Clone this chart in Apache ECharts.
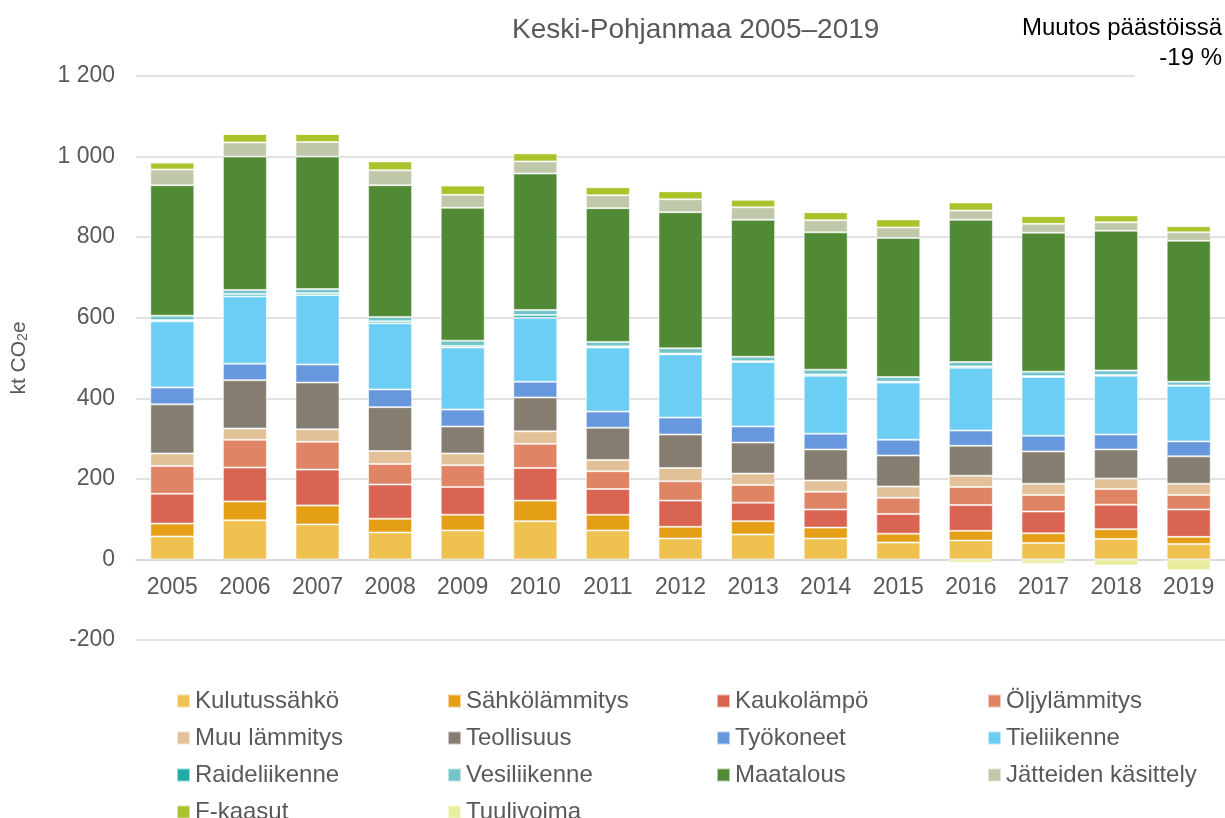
<!DOCTYPE html>
<html lang="fi">
<head>
<meta charset="UTF-8">
<title>Keski-Pohjanmaa 2005–2019</title>
<script src="https://cdn.jsdelivr.net/npm/echarts@6/dist/echarts.min.js"></script>
<style>
    body { margin: 0; background: #fff; }
    #chart { width: 1225px; height: 818px; }
</style>
</head>
<body>
<div id="chart"></div>
<script>
// vuodet
const years = ['2005','2006','2007','2008','2009','2010','2011','2012','2013','2014','2015','2016','2017','2018','2019'];

// päästöt sektoreittain, kt CO2e
const kulutussahko  = [57, 97, 87, 67, 72, 95, 72, 52, 62, 52, 42, 47, 41, 51, 38];
const sahkolammitys = [32, 47, 47, 34, 39, 51, 39, 29, 33, 27, 22, 24, 24, 24, 18];
const kaukolampo    = [74, 84, 89, 85, 69, 81, 64, 65, 46, 45, 49, 64, 54, 61, 68];
const oljylammitys  = [69, 69, 69, 51, 54, 60, 44, 48, 44, 44, 40, 45, 41, 39, 36];
const muuLammitys   = [31, 28, 31, 32, 29, 31, 28, 33, 28, 28, 28, 28, 28, 26, 28];
const teollisuus    = [122, 120, 116, 109, 67, 84, 80, 83, 77, 77, 77, 74, 80, 72, 68];
const tyokoneet     = [42, 41, 45, 44, 42, 39, 40, 42, 40, 39, 39, 38, 39, 37, 37];
const tieliikenne   = [164, 167, 172, 164, 154, 159, 159, 157, 160, 144, 142, 156, 146, 146, 138];
const raideliikenne = [3, 6, 5, 5, 4, 7, 3, 2, 2, 3, 2, 3, 2, 2, 1];
const vesiliikenne  = [11, 10, 10, 11, 13, 12, 11, 13, 11, 12, 12, 11, 11, 11, 9];
const maatalous     = [324, 331, 329, 327, 330, 339, 332, 338, 340, 341, 345, 353, 345, 347, 350];
const jatteet       = [39, 35, 36, 37, 32, 30, 32, 32, 31, 30, 26, 23, 22, 21, 21];
const fKaasut       = [17, 21, 20, 22, 23, 20, 20, 20, 19, 20, 20, 20, 19, 17, 15];
const tuulivoima    = [0, 0, 0, 0, 0, 0, 0, 0, 0, 0, 0, -8, -11, -15, -27];

const sectors = [
    { name: 'Kulutussähkö', data: kulutussahko, color: '#EEC150' },
    { name: 'Sähkölämmitys', data: sahkolammitys, color: '#E49F16' },
    { name: 'Kaukolämpö', data: kaukolampo, color: '#DA6452' },
    { name: 'Öljylämmitys', data: oljylammitys, color: '#DF8465' },
    { name: 'Muu lämmitys', data: muuLammitys, color: '#E3C198' },
    { name: 'Teollisuus', data: teollisuus, color: '#857D70' },
    { name: 'Työkoneet', data: tyokoneet, color: '#6798DD' },
    { name: 'Tieliikenne', data: tieliikenne, color: '#6DCEF5' },
    { name: 'Raideliikenne', data: raideliikenne, color: '#20ADA9' },
    { name: 'Vesiliikenne', data: vesiliikenne, color: '#72C4C8' },
    { name: 'Maatalous', data: maatalous, color: '#518A35' },
    { name: 'Jätteiden käsittely', data: jatteet, color: '#C0C8AA' },
    { name: 'F-kaasut', data: fKaasut, color: '#ABC22B' },
    { name: 'Tuulivoima', data: tuulivoima, color: '#EAEC9F' }
];

const font = 'Liberation Sans, Arial, sans-serif';
const grey = '#595959';

// legend grid: 4 columns, one small legend per item
const legendCols = [171, 442, 711, 982];
const legendRows = [698, 735, 772, 809];
const legends = sectors.map((s, i) => ({
    left: legendCols[i % 4],
    top: legendRows[Math.floor(i / 4)] - 14,
    itemWidth: 13, itemHeight: 13,
    icon: 'rect',
    data: [s.name],
    textStyle: { fontSize: 24, color: grey, fontFamily: font }
}));

const chart = echarts.init(document.getElementById('chart'));
chart.setOption({
    animation: false,
    backgroundColor: '#fff',
    title: {
        text: 'Keski-Pohjanmaa 2005–2019',
        left: 507, top: 11,
        textStyle: { fontSize: 28, fontWeight: 'normal', color: grey, fontFamily: font }
    },
    grid: { left: 136, right: -6, top: 76, bottom: 178 },
    legend: legends,
    xAxis: {
        type: 'category',
        data: years,
        offset: -80.5,
        axisLine: { onZero: false, lineStyle: { color: '#d9d9d9', width: 1.5 } },
        axisTick: { show: false },
        axisLabel: { fontSize: 23, color: grey, fontFamily: font, margin: 17 }
    },
    yAxis: {
        type: 'value',
        min: -200, max: 1200, interval: 200,
        name: 'kt CO{sub|2}e',
        nameLocation: 'middle',
        nameGap: 106,
        nameRotate: 90,
        nameTextStyle: {
            fontSize: 21, color: grey, fontFamily: font,
            rich: { sub: { fontSize: 14, color: grey, fontFamily: font, verticalAlign: 'bottom', padding: [8, 0, 0, 0] } }
        },
        axisLine: { show: false },
        axisTick: { show: false },
        splitLine: { lineStyle: { color: '#d9d9d9', width: 1.5 } },
        axisLabel: {
            fontSize: 23, color: grey, fontFamily: font, margin: 21,
            formatter: v => String(v).replace(/\B(?=(\d{3})+(?!\d))/g, ' ')
        }
    },
    graphic: [
        { type: 'rect', shape: { x: 1135, y: 66, width: 90, height: 20 }, style: { fill: '#fff' }, z: 100 },
        { type: 'text', right: 3, top: 16, z: 101, style: { text: 'Muutos päästöissä', fontSize: 24, fill: '#000', fontFamily: font } },
        { type: 'text', right: 3, top: 46, z: 101, style: { text: '-19 %', fontSize: 24, fill: '#000', fontFamily: font } }
    ],
    series: sectors.map(s => ({
        name: s.name,
        type: 'bar',
        stack: 'total',
        barWidth: 44,
        data: s.data,
        itemStyle: { color: s.color, borderColor: 'rgba(255,255,255,0.55)', borderWidth: 1 }
    }))
});
</script>
</body>
</html>
